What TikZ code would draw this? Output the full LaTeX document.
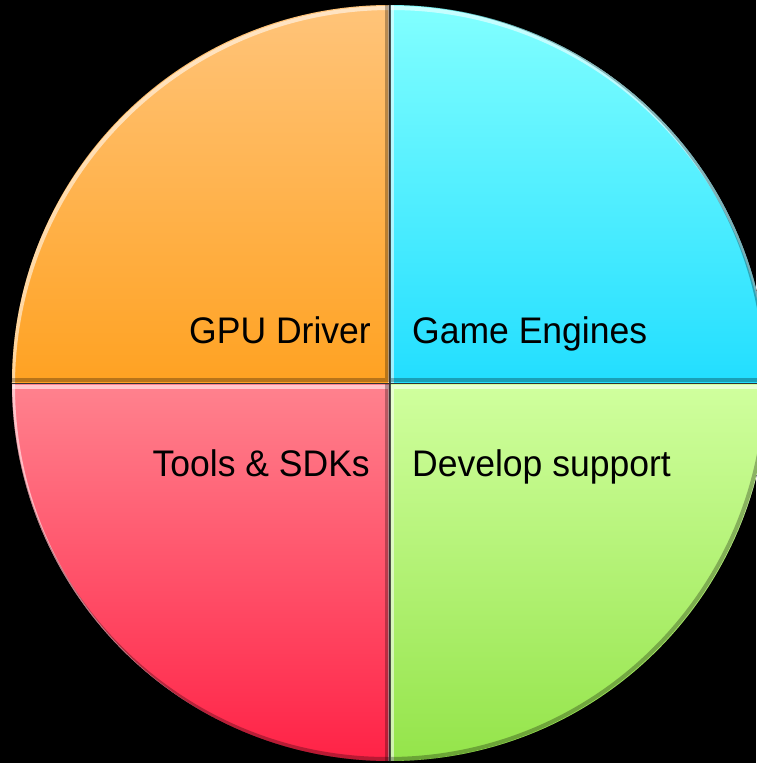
\documentclass[tikz,border=0pt]{standalone}
\usepackage{fontspec}
\setmainfont[FakeStretch=0.96]{Liberation Sans}
\definecolor{orTop}{RGB}{255,196,122}
\definecolor{orBot}{RGB}{255,162,34}
\definecolor{cyTop}{RGB}{130,255,255}
\definecolor{cyBot}{RGB}{34,222,255}
\definecolor{pkTop}{RGB}{255,130,142}
\definecolor{pkBot}{RGB}{255,34,70}
\definecolor{grTop}{RGB}{208,255,158}
\definecolor{grBot}{RGB}{148,228,74}
\tikzset{
  lbl/.style={inner sep=0pt, text=black, font=\fontsize{37}{40}\selectfont},
  hilite/.style={white, opacity=0.55, line width=4pt},
  shade/.style={black, opacity=0.28, line width=4pt},
}
\newcommand{\quadrant}[4]{%
  % #1 inner corner x, #2 inner corner y, #3 sign x, #4 sign y ; uses colours set before
  \begin{scope}
    \clip (0,0) circle (378);
    \clip (#1,#2) rectangle ({#3*400},{#4*400});
    \fill[top color=qtop, bottom color=qbot] (#1,#2) rectangle ({#3*378},{#4*378});
    \draw[hilite] (1,-3) circle (378);
    \draw[hilite] ({#1+1},{#2-3}) rectangle ({#3*400+1},{#4*400-3});
    \draw[shade] (-2,2) circle (378);
    \draw[shade] ({#1-2},{#2+2}) rectangle ({#3*400-2},{#4*400+2});
  \end{scope}}
\begin{document}
\begin{tikzpicture}[x=1pt,y=1pt]
  \fill[black] (-390,-380) rectangle (366,383);
  \useasboundingbox (-390,-380) rectangle (366,383);
  \fill[black!80] (0,0) circle (378);
  \colorlet{qtop}{orTop}\colorlet{qbot}{orBot}
  \quadrant{-1}{1}{-1}{1}
  \colorlet{qtop}{cyTop}\colorlet{qbot}{cyBot}
  \quadrant{1}{1}{1}{1}
  \colorlet{qtop}{pkTop}\colorlet{qbot}{pkBot}
  \quadrant{-1}{-1}{-1}{-1}
  \colorlet{qtop}{grTop}\colorlet{qbot}{grBot}
  \quadrant{1}{-1}{1}{-1}
  \node[lbl, anchor=base east] (gpu) at (-19,39) {GPU Driver};
  \node[lbl, anchor=base west] (game) at (22,39) {Game Engines};
  \node[lbl, anchor=base east] (tools) at (-20,-93) {Tools \& SDKs};
  \node[lbl, anchor=base west] (dev) at (22,-93) {Develop support};
\end{tikzpicture}
\end{document}
